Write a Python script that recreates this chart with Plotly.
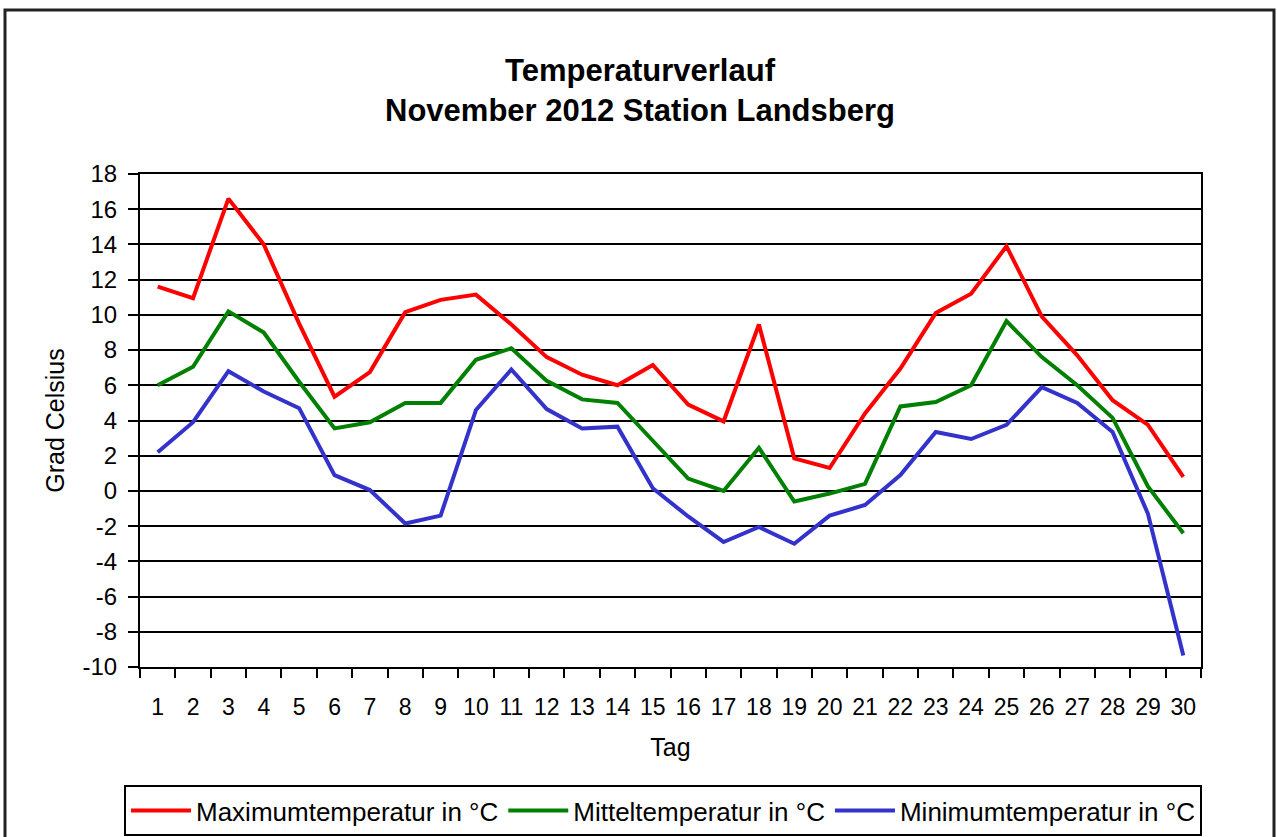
import plotly.graph_objects as go

days = [str(d) for d in range(1, 31)]

t_max = [11.6, 10.95, 16.6, 14.0, 9.5, 5.35, 6.75, 10.15, 10.85, 11.15,
         9.45, 7.6, 6.6, 6.0, 7.15, 4.9, 3.95, 9.45, 1.85, 1.3,
         4.4, 6.95, 10.1, 11.2, 13.9, 9.9, 7.7, 5.15, 3.75, 0.8]

t_mittel = [6.0, 7.05, 10.2, 9.0, 6.2, 3.55, 3.9, 5.0, 5.0, 7.45,
            8.1, 6.25, 5.2, 5.0, 2.85, 0.7, 0.0, 2.45, -0.6, -0.15,
            0.4, 4.8, 5.05, 6.0, 9.65, 7.6, 6.0, 4.15, 0.25, -2.4]

t_min = [2.2, 3.9, 6.8, 5.65, 4.7, 0.9, 0.05, -1.85, -1.4, 4.6,
         6.9, 4.65, 3.55, 3.65, 0.15, -1.45, -2.9, -2.05, -3.0, -1.4,
         -0.8, 0.9, 3.35, 2.95, 3.75, 5.9, 5.0, 3.35, -1.3, -9.35]

series_names = ["Maximumtemperatur in °C", "Mitteltemperatur in °C", "Minimumtemperatur in °C"]
series_colors = ["#FF0000", "#008000", "#3333CC"]
y_ticks = list(range(-10, 19, 2))
y_ticktext = [str(v) for v in y_ticks]

FONT = "Liberation Sans, Arial, sans-serif"

fig = go.Figure()
for name, vals, col in zip(series_names, [t_max, t_mittel, t_min], series_colors):
    fig.add_trace(go.Scatter(x=days, y=vals, mode="lines", name=name,
                             line=dict(color=col, width=4)))

W, H = 1277, 837
ml, mr, mt, mb = 140, 76, 174, 170
pw, ph = W - ml - mr, H - mt - mb

def px_x(x):
    return (x - ml) / pw

def px_y(y):
    return (H - mb - y) / ph

fig.update_layout(
    width=W, height=H,
    margin=dict(l=ml, r=mr, t=mt, b=mb, autoexpand=False),
    paper_bgcolor="white", plot_bgcolor="white",
    font=dict(family=FONT, color="black"),
    title=dict(text="<b>Temperaturverlauf<br>November 2012 Station Landsberg</b>",
               x=640 / W, xanchor="center", xref="container",
               y=1 - 81 / H, yanchor="top", yref="container",
               font=dict(size=31, family=FONT, color="black")),
    showlegend=True,
    legend=dict(orientation="h", xref="paper", yref="paper",
                x=px_x(124), xanchor="left", y=px_y(785), yanchor="top",
                bordercolor="black", borderwidth=2, bgcolor="white",
                font=dict(size=26, family=FONT, color="black"),
                itemwidth=60, tracegroupgap=0),
    shapes=[dict(type="rect", xref="paper", yref="paper",
                 x0=px_x(5), x1=px_x(1274), y0=px_y(845), y1=px_y(10),
                 line=dict(color="#222222", width=3), layer="below")],
)

fig.update_xaxes(
    type="category", categoryorder="array", categoryarray=days,
    range=[-0.5, len(days) - 0.5],
    tickson="boundaries", ticks="outside", ticklen=9, tickwidth=2, tickcolor="black",
    showline=True, linecolor="black", linewidth=2, mirror=True,
    showgrid=False, ticklabelstandoff=18, tickangle=0,
    tickfont=dict(size=23, family=FONT, color="black"),
    title=dict(text="Tag", standoff=20, font=dict(size=25, family=FONT, color="black")),
)
fig.update_yaxes(
    range=[-10, 18], tickvals=y_ticks, ticktext=y_ticktext, ticks="outside",
    ticklen=10, tickwidth=2,
    tickcolor="black", showline=True, linecolor="black", linewidth=2, mirror=True,
    showgrid=True, gridcolor="black", gridwidth=2, zeroline=False,
    ticklabelstandoff=6,
    tickfont=dict(size=24, family=FONT, color="black"),
    title=dict(text="Grad Celsius", standoff=11, font=dict(size=25, family=FONT, color="black")),
)

fig.write_html("out.html", config={"displayModeBar": False},
               post_script="document.body.style.margin='0px';")
